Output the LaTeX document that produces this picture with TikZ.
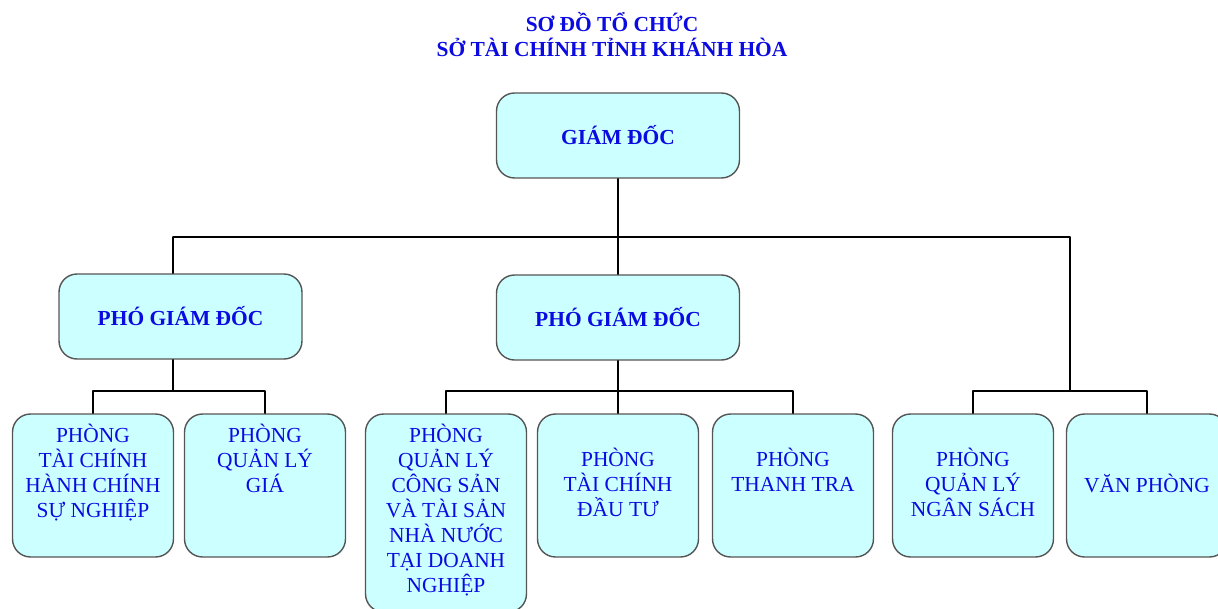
\documentclass[tikz,border=0pt]{standalone}
\usepackage{fontspec}
\setmainfont{Liberation Serif}
\usepackage{tikz}
\usetikzlibrary{arrows}
\definecolor{orgblue}{RGB}{10,10,225}
\definecolor{boxfill}{RGB}{204,255,255}
\definecolor{boxline}{RGB}{85,85,85}

\begin{document}
\begin{tikzpicture}[line cap=round,line join=round,x=0.02cm,y=-0.02cm,
    orgtitle/.style={align=center,inner sep=0pt,text=orgblue,font=\fontsize{12.2}{14.2}\selectfont\bfseries},
    chief/.style={draw=boxline,fill=boxfill,line width=0.8pt,rounded corners=0.36cm,minimum width=4.86cm,minimum height=1.7cm,text=orgblue,font=\fontsize{12.2}{14.2}\selectfont\bfseries},
    dept/.style={draw=boxline,fill=boxfill,line width=0.8pt,rounded corners=0.36cm,minimum width=3.22cm,minimum height=2.86cm},
    depttext/.style={anchor=north,align=center,inner sep=0pt,text=orgblue,font=\fontsize{12.2}{14.2}\selectfont},
    link/.style={draw=black,line width=0.6pt}]
    \useasboundingbox (0,0) rectangle (1218,609);
    \clip (0,0) rectangle (1218,609);
    % title
    \node[orgtitle] (title) at (612,35) {SƠ ĐỒ TỔ CHỨC\\SỞ TÀI CHÍNH TỈNH KHÁNH HÒA};
    % joints of the lines
    \coordinate (busL) at (173,237);
    \coordinate (busR) at (1070,237);
    \coordinate (hubA) at (173,391);
    \coordinate (hubB) at (618,391);
    \coordinate (hubC) at (1070,391);
    % leaders
    \node[chief] (gd) at (618,135.5) {GIÁM ĐỐC};
    \node[chief] (pgdA) at (180.5,316.5) {PHÓ GIÁM ĐỐC};
    \node[chief] (pgdB) at (618,317.5) {PHÓ GIÁM ĐỐC};
    % departments
    \node[dept] (tchc) at (93,485.5) {};
    \node[dept] (qlg) at (265,485.5) {};
    \node[dept,minimum height=3.96cm] (qlcs) at (446,513) {};
    \node[dept] (tcdt) at (618,485.5) {};
    \node[dept] (ttra) at (793,485.5) {};
    \node[dept] (qlns) at (973,485.5) {};
    \node[dept] (vp) at (1147,485.5) {};
    \node[depttext] (tchcT) at (93,424) {PHÒNG\\TÀI CHÍNH\\HÀNH CHÍNH\\SỰ NGHIỆP};
    \node[depttext] (qlgT) at (265,424) {PHÒNG\\QUẢN LÝ\\GIÁ};
    \node[depttext] (qlcsT) at (446,424) {PHÒNG\\QUẢN LÝ\\CÔNG SẢN\\VÀ TÀI SẢN\\NHÀ NƯỚC\\TẠI DOANH\\NGHIỆP};
    \node[depttext] (tcdtT) at (618,448) {PHÒNG\\TÀI CHÍNH\\ĐẦU TƯ};
    \node[depttext] (ttraT) at (793,448) {PHÒNG\\THANH TRA};
    \node[depttext] (qlnsT) at (973,448) {PHÒNG\\QUẢN LÝ\\NGÂN SÁCH};
    \node[depttext] (vpT) at (1147,474) {VĂN PHÒNG};
    % lines
    \draw[link] (gd.south) -- (pgdB.north);
    \draw[link] (busL) -- (busR);
    \draw[link] (busL) -- (busL |- pgdA.north);
    \draw[link] (busR) -- (hubC);
    \draw[link] (hubA |- pgdA.south) -- (hubA);
    \draw[link] (pgdB.south) -- (hubB);
    \draw[link] (tchc.north) |- (qlg.north |- hubA) -- (qlg.north);
    \draw[link] (qlcs.north) |- (ttra.north |- hubB) -- (ttra.north);
    \draw[link] (hubB) -- (tcdt.north);
    \draw[link] (qlns.north) |- (vp.north |- hubC) -- (vp.north);
\end{tikzpicture}
\end{document}
